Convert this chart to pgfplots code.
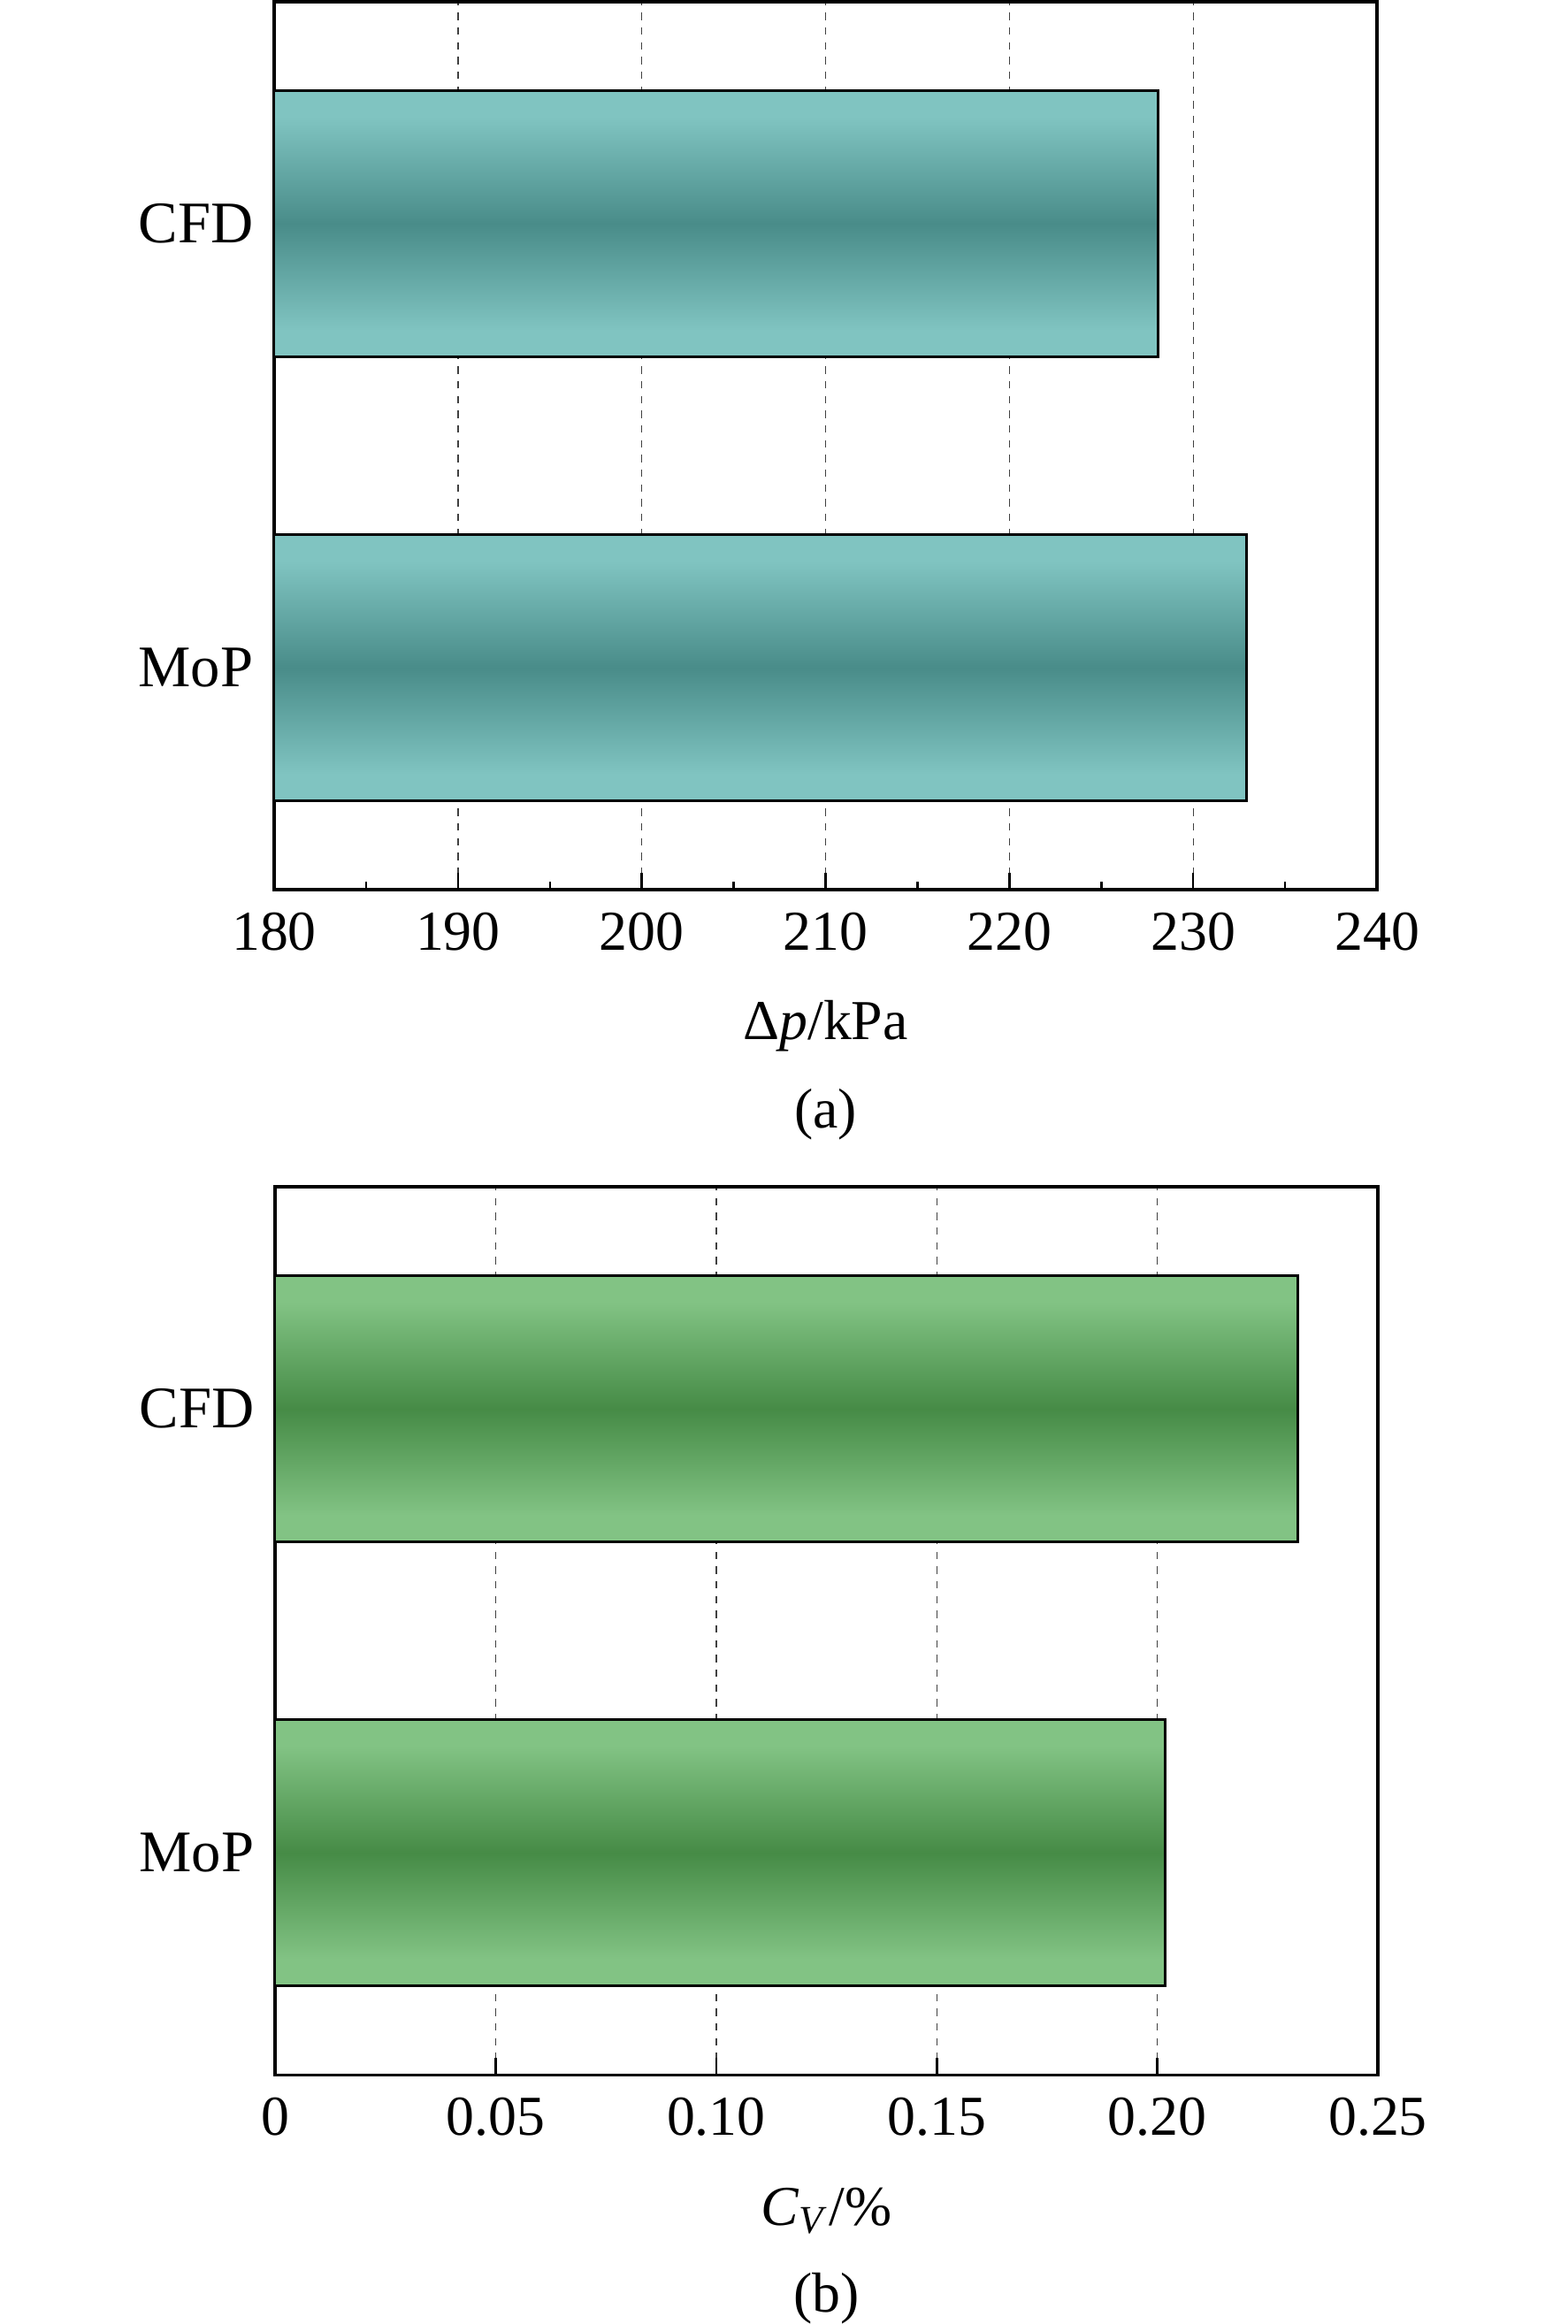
\documentclass[border=0pt]{standalone}
\usepackage{pgfplots}
\pgfplotsset{compat=1.18}
\usepackage{fontspec}
\setmainfont{Liberation Serif}
\definecolor{tealL}{RGB}{128,196,193}
\definecolor{tealD}{RGB}{73,140,137}
\definecolor{greenL}{RGB}{130,195,132}
\definecolor{greenD}{RGB}{70,139,70}
\pgfdeclareverticalshading{tealbar}{100bp}{color(0bp)=(tealL); color(25bp)=(tealL); color(30bp)=(tealL); color(50bp)=(tealD); color(70bp)=(tealL); color(75bp)=(tealL); color(100bp)=(tealL)}
\pgfdeclareverticalshading{greenbar}{100bp}{color(0bp)=(greenL); color(25bp)=(greenL); color(30bp)=(greenL); color(50bp)=(greenD); color(70bp)=(greenL); color(75bp)=(greenL); color(100bp)=(greenL)}
\newcommand{\fs}{\fontsize{15.3}{18}\selectfont}
\newcommand{\fsy}{\fontsize{16}{19}\selectfont}
\pgfplotsset{
  mybar/.style={
    width=299.3pt, height=241pt, scale only axis,
    xbar, bar width=0.6, bar shift=0pt,
    ymin=-0.5, ymax=1.5, ytick={0,1}, yticklabels={MoP,CFD},
    ytick style={draw=none},
    tick align=inside, xtick pos=bottom, ytick pos=left,
    major tick length=4.6pt, minor tick length=2.2pt,
    xtick style={black, line width=0.6pt},
    minor x tick style={black, line width=0.6pt},
    xmajorgrids,
    grid style={black!75, line width=0.35pt, dash pattern=on 2pt off 2pt},
    axis line style={black, line width=0.8pt},
    clip mode=individual,
    /pgf/number format/assume math mode=true,
    tick label style={font=\fs},
    xticklabel style={yshift=-1pt},
    yticklabel style={font=\fsy, xshift=-0.4pt},
    label style={font=\fs},
    every axis x label/.style={at={(axis description cs:0.5,-0.153)}, anchor=center},
  }
}
\begin{document}
\fs
\begin{tikzpicture}
\begin{axis}[mybar, at={(0pt,0pt)}, anchor=north west,
  xmin=180, xmax=240, xtick={180,190,...,240}, minor x tick num=1,
  xlabel={Δ\textit{p}/kPa}]
\addplot[shade, shading=tealbar, draw=black, line width=0.7pt] coordinates {(228.1,1)};
\addplot[shade, shading=tealbar, draw=black, line width=0.7pt] coordinates {(232.9,0)};
\node[font=\fs] at (axis description cs:0.5,-0.253) {(a)};
\end{axis}
\begin{axis}[mybar, at={(0.24pt,-321.6pt)}, anchor=north west,
  xmin=0, xmax=0.25, xtick={0,0.05,0.1,0.15,0.2,0.25},
  xticklabels={0,0.05,0.10,0.15,0.20,0.25},
  xlabel={\textit{C}\textsubscript{\textit{V}}/\%}]
\addplot[shade, shading=greenbar, draw=black, line width=0.7pt] coordinates {(0.2318,1)};
\addplot[shade, shading=greenbar, draw=black, line width=0.7pt] coordinates {(0.2017,0)};
\node[font=\fs] at (axis description cs:0.5,-0.252) {(b)};
\end{axis}
\pgfresetboundingbox
\useasboundingbox (-74.4pt,0.48pt) rectangle (350.88pt,-630.24pt);
\end{tikzpicture}
\end{document}
